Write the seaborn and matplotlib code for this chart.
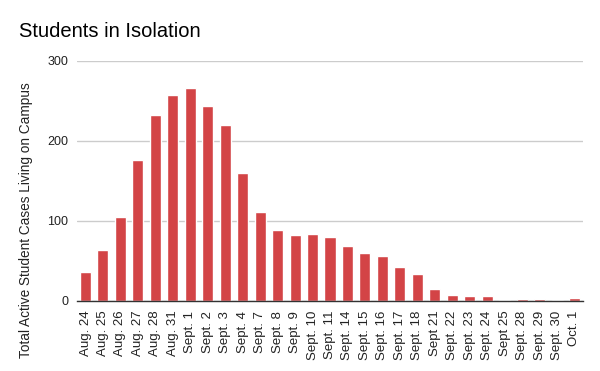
import numpy as np
import pandas as pd
import matplotlib
matplotlib.use("Agg")
import matplotlib.pyplot as plt
import seaborn as sns

# Data
dates = ["Aug. 24", "Aug. 25", "Aug. 26", "Aug. 27", "Aug. 28", "Aug. 31",
         "Sept. 1", "Sept. 2", "Sept. 3", "Sept. 4", "Sept. 7", "Sept. 8",
         "Sept. 9", "Sept. 10", "Sept. 11", "Sept. 14", "Sept. 15", "Sept. 16",
         "Sept. 17", "Sept. 18", "Sept 21", "Sept. 22", "Sept. 23", "Sept. 24",
         "Sept 25", "Sept. 28", "Sept. 29", "Sept. 30", "Oct. 1"]
cases = [36, 64, 105, 176, 232, 258, 266, 244, 220, 160, 111, 89,
         83, 84, 80, 69, 60, 56, 42, 34, 15, 7, 6, 6,
         1, 2, 2, 1, 4]
y_ticks = [0, 100, 200, 300]

df = pd.DataFrame({"date": dates, "cases": cases})

sns.set_style("white")
plt.rcParams['font.family'] = ['Liberation Sans', 'DejaVu Sans']

fig = plt.figure(figsize=(6, 3.71), dpi=100)
ax = fig.add_axes([0.128, 0.1887, 0.844, 0.6469])

sns.barplot(data=df, x="date", y="cases", color="#d34446", saturation=1,
            width=0.63, ax=ax, zorder=3)

ax.set_ylim(0, 300)
ax.set_xlim(-0.5, len(dates) - 0.5)
ax.set_yticks(y_ticks)
ax.yaxis.grid(True, color="#cccccc", linewidth=1, zorder=0)
ax.set_axisbelow(True)
for s in ["top", "right", "left"]:
    ax.spines[s].set_visible(False)
ax.spines["bottom"].set_color("#333333")
ax.spines["bottom"].set_linewidth(1.0)
ax.spines["bottom"].set_zorder(4)

ax.tick_params(axis="y", length=0, labelsize=9, colors="#222222", pad=6)
ax.tick_params(axis="x", length=0, labelsize=9.5, colors="#222222", pad=7)
plt.setp(ax.get_xticklabels(), rotation=90)
ax.set_xlabel("")
ax.set_ylabel("")

fig.text(26 / 600, 1 - 220 / 371, "Total Active Student Cases Living on Campus",
         fontsize=9.8, color="#222222", rotation=90, ha="center", va="center")

fig.text(19 / 600, 0.915, "Students in Isolation", fontsize=14.5, color="#000000",
         ha="left", va="center")

fig.savefig("out.png", dpi=100)
